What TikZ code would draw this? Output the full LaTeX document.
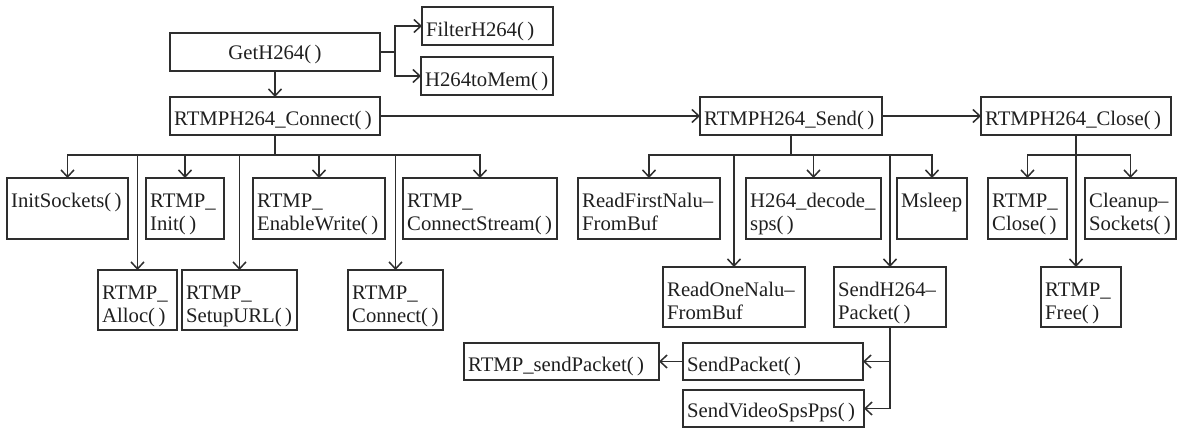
\documentclass[tikz,border=0pt]{standalone}
\usepackage{fontspec}
\setmainfont{Liberation Serif}
\usetikzlibrary{arrows.meta}
\newcommand\lbfont{\fontsize{20.7}{24}\selectfont}
\tikzset{
  box/.style={draw=black!82, line width=1.6pt, inner sep=0pt, outer sep=0pt, anchor=north west},
  lbl/.style={anchor=base west, inner sep=0pt, font=\lbfont, text=black!88},
  conn/.style={draw=black!82, line width=1.5pt},
  >={Straight Barb[length=7pt,width=13pt]}
}
% single line box: name, x1, y1, x2, y2, text, baseline offset
\newcommand\bxA[7]{%
  \node[box,minimum width={(#4-#2)*1pt},minimum height={(#5-#3)*1pt}] (#1) at (#2,#3) {};
  \node[lbl] (#1-t) at (#2+4,#3+#7) {#6};}
% centred single line box
\newcommand\bxC[6]{%
  \node[box,minimum width={(#4-#2)*1pt},minimum height={(#5-#3)*1pt}] (#1) at (#2,#3) {};
  \node[lbl,anchor=base] (#1-t) at ({(#2+#4)/2},#3+27) {#6};}
% two line box
\newcommand\bxB[7]{%
  \node[box,minimum width={(#4-#2)*1pt},minimum height={(#5-#3)*1pt}] (#1) at (#2,#3) {};
  \node[lbl] (#1-a) at (#2+4,#3+29) {#6};
  \node[lbl] (#1-b) at (#2+4,#3+52) {#7};}
\begin{document}
\begin{tikzpicture}[x=1pt,y=-1pt]
\useasboundingbox (0,0) rectangle (1184,428);
% top
\bxC{get}{170}{33}{380}{71}{GetH264(\,)}
\bxA{filter}{422}{7}{553}{45}{FilterH264(\,)}{30}
\bxA{mem}{421}{57}{553}{95}{H264toMem(\,)}{30}
\bxA{conn}{170}{97}{380}{135}{RTMPH264\_Connect(\,)}{28}
\bxA{send}{700}{97}{882}{135}{RTMPH264\_Send(\,)}{28}
\bxA{close}{981}{97}{1171}{135}{RTMPH264\_Close(\,)}{28}
% row 1
\bxA{initsock}{7}{178}{128}{239}{InitSockets(\,)}{29}
\bxB{init}{146}{178}{224}{239}{RTMP\_}{Init(\,)}
\bxB{enw}{253}{178}{385}{239}{RTMP\_}{EnableWrite(\,)}
\bxB{cstream}{403}{178}{557}{239}{RTMP\_}{ConnectStream(\,)}
\bxB{rfirst}{578}{178}{720}{239}{ReadFirstNalu--}{FromBuf}
\bxB{dec}{746}{178}{881}{239}{H264\_decode\_}{sps(\,)}
\bxA{msleep}{897}{178}{967}{239}{Msleep}{29}
\bxB{rclose}{988}{178}{1067}{239}{RTMP\_}{Close(\,)}
\bxB{cleanup}{1085}{178}{1176}{239}{Cleanup--}{Sockets(\,)}
% row 2
\bxB{alloc}{98}{270}{177}{330}{RTMP\_}{Alloc(\,)}
\bxB{setup}{182}{270}{297}{330}{RTMP\_}{SetupURL(\,)}
\bxB{rconn}{348}{270}{443}{330}{RTMP\_}{Connect(\,)}
\bxB{ronenalu}{663}{267}{805}{327}{ReadOneNalu--}{FromBuf}
\bxB{sh264}{834}{267}{946}{327}{SendH264--}{Packet(\,)}
\bxB{free}{1041}{267}{1121}{327}{RTMP\_}{Free(\,)}
% row 3
\bxA{rsend}{464}{343}{659}{380}{RTMP\_sendPacket(\,)}{28}
\bxA{spkt}{683}{343}{863}{380}{SendPacket(\,)}{28}
\bxA{svsp}{683}{390}{864}{427}{SendVideoSpsPps(\,)}{27}
% connectors
\draw[conn,->] (get) -- (conn);
\coordinate (gf) at (395,52);
\draw[conn] (get.east) -- (gf);
\draw[conn,->] (gf) |- (filter.west);
\draw[conn,->] (gf) |- (mem.west);
\draw[conn,->] (conn) -- (send);
\draw[conn,->] (send) -- (close);
\path (conn.south) ++(0,20) coordinate (cb);
\draw[conn] (conn.south) -- (cb);
\foreach \c in {initsock,alloc,init,setup,enw,rconn,cstream}
  \draw[conn,->] (cb) -| (\c.north);
\path (send.south) ++(0,20) coordinate (sb);
\draw[conn] (send.south) -- (sb);
\foreach \c in {rfirst,ronenalu,dec,sh264,msleep}
  \draw[conn,->] (sb) -| (\c.north);
\path (close.south) ++(0,20) coordinate (clb);
\draw[conn] (close.south) -- (clb);
\draw[conn,->] (clb) -| (rclose.north);
\draw[conn,->] (clb) -| (cleanup.north);
\draw[conn,->] (clb) -- (clb |- free.north);
\draw[conn,->] (sh264.south) |- (spkt.east);
\draw[conn,->] (sh264.south) |- (svsp.east);
\draw[conn,->] (spkt) -- (rsend);
\end{tikzpicture}
\end{document}
